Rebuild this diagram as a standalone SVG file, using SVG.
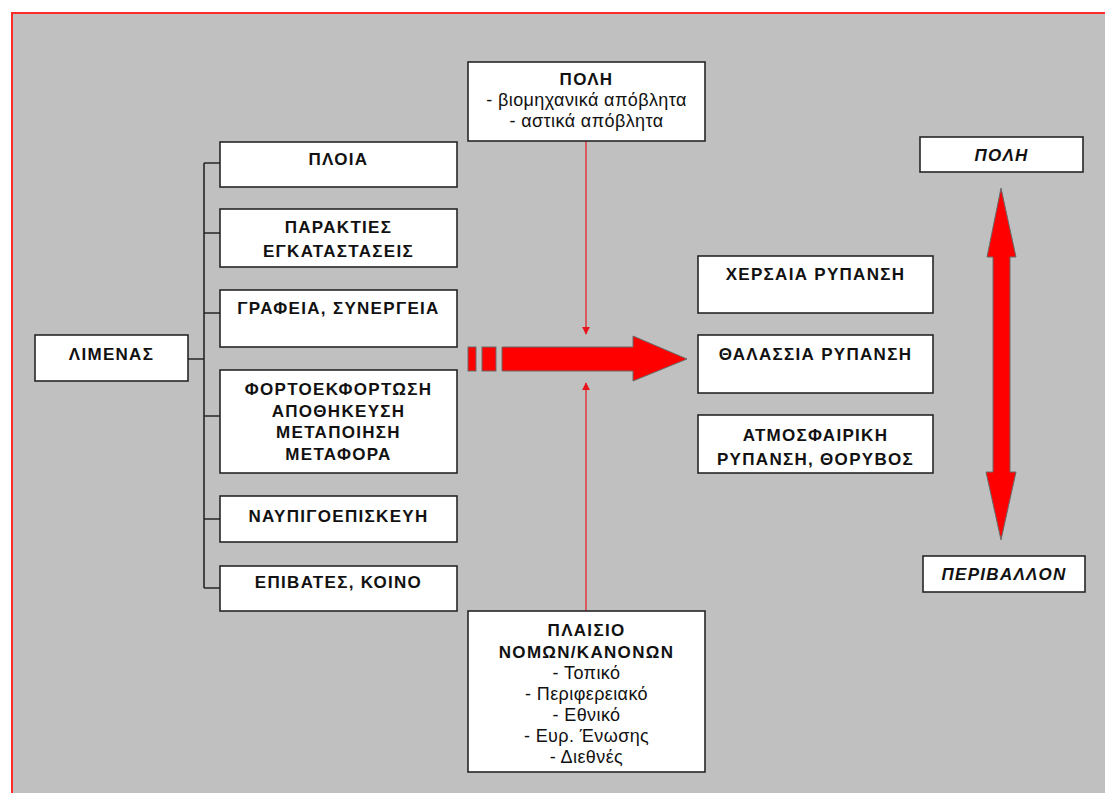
<svg xmlns="http://www.w3.org/2000/svg" width="1105" height="793" viewBox="0 0 1105 793">
  <style>
    .box { fill: #ffffff; stroke: #262626; stroke-width: 1.6; }
    .t { font-family: "Liberation Sans", Arial, sans-serif; font-size: 17px; fill: #111111; text-anchor: middle; }
    .b { font-weight: bold; letter-spacing: 1.3px; }
    .r { font-size: 18px; letter-spacing: 0.4px; }
    .i { font-weight: bold; font-style: italic; letter-spacing: 1.3px; }
    .tree { fill: none; stroke: #262626; stroke-width: 1.6; }
    .thin { stroke: #e8141c; stroke-width: 1.2; fill: none; }
    .big { fill: #ff0000; stroke: #6a6a6a; stroke-width: 1; }
  </style>
  <defs>
    <marker id="tip" viewBox="0 0 10 10" refX="9" refY="5" markerWidth="8" markerHeight="8" markerUnits="userSpaceOnUse" orient="auto">
      <path d="M0,0 L10,5 L0,10 z" fill="#e8141c"/>
    </marker>
  </defs>

  <!-- page background with red frame -->
  <rect x="0" y="0" width="1105" height="793" fill="#ffffff"/>
  <rect x="12" y="13" width="1093" height="780" fill="#c0c0c0"/>
  <path d="M12,793 L12,13 L1105,13" fill="none" stroke="#ff2b2b" stroke-width="2"/>

  <!-- connectors -->
  <g id="connectors">
    <path class="tree" d="M188,359 H204 M204,163 V588 M204,163 H220 M204,233 H220 M204,313 H220 M204,416 H220 M204,519 H220 M204,588 H220"/>
    <line class="thin" x1="586" y1="141" x2="586" y2="334" marker-end="url(#tip)"/>
    <line class="thin" x1="586" y1="611" x2="586" y2="383" marker-end="url(#tip)"/>
    <!-- main flow arrow -->
    <rect class="big" x="468" y="347" width="8" height="24"/>
    <rect class="big" x="482" y="347" width="14" height="24"/>
    <path class="big" d="M502,347 H633 V336 L687,359 L633,381 V371 H502 Z"/>
    <!-- city / environment double arrow -->
    <path class="big" d="M1001,188 L1016,257 H1010 V472 H1016 L1001,540 L986,472 H993 V257 H987 Z"/>
  </g>

  <!-- port -->
  <g id="limenas">
    <rect class="box" x="35" y="335" width="153" height="46"/>
    <text class="t b" x="111.5" y="360">ΛΙΜΕΝΑΣ</text>
  </g>

  <!-- port activities -->
  <g id="ploia">
    <rect class="box" x="220" y="142" width="237" height="45"/>
    <text class="t b" x="338.5" y="165">ΠΛΟΙΑ</text>
  </g>
  <g id="parakties">
    <rect class="box" x="220" y="209" width="237" height="58"/>
    <text class="t b" x="338.5" y="233">ΠΑΡΑΚΤΙΕΣ</text>
    <text class="t b" x="338.5" y="257">ΕΓΚΑΤΑΣΤΑΣΕΙΣ</text>
  </g>
  <g id="grafeia">
    <rect class="box" x="220" y="290" width="237" height="57"/>
    <text class="t b" x="338.5" y="314">ΓΡΑΦΕΙΑ, ΣΥΝΕΡΓΕΙΑ</text>
  </g>
  <g id="fortoekfortosi">
    <rect class="box" x="220" y="370" width="237" height="103"/>
    <text class="t b" x="338.5" y="395">ΦΟΡΤΟΕΚΦΟΡΤΩΣΗ</text>
    <text class="t b" x="338.5" y="416.5">ΑΠΟΘΗΚΕΥΣΗ</text>
    <text class="t b" x="338.5" y="438">ΜΕΤΑΠΟΙΗΣΗ</text>
    <text class="t b" x="338.5" y="459.5">ΜΕΤΑΦΟΡΑ</text>
  </g>
  <g id="naupigoepiskeui">
    <rect class="box" x="220" y="496" width="237" height="46"/>
    <text class="t b" x="338.5" y="522">ΝΑΥΠΙΓΟΕΠΙΣΚΕΥΗ</text>
  </g>
  <g id="epivates">
    <rect class="box" x="220" y="566" width="237" height="45"/>
    <text class="t b" x="338.5" y="588">ΕΠΙΒΑΤΕΣ, ΚΟΙΝΟ</text>
  </g>

  <!-- city sources -->
  <g id="poli-pigi">
    <rect class="box" x="468" y="62" width="237" height="79"/>
    <text class="t b" x="586.5" y="85">ΠΟΛΗ</text>
    <text class="t r" x="586.5" y="106">- βιομηχανικά απόβλητα</text>
    <text class="t r" x="586.5" y="127">- αστικά απόβλητα</text>
  </g>

  <!-- legal framework -->
  <g id="plaisio">
    <rect class="box" x="468" y="611" width="237" height="161"/>
    <text class="t b" x="586.5" y="636">ΠΛΑΙΣΙΟ</text>
    <text class="t b" x="586.5" y="658">ΝΟΜΩΝ/ΚΑΝΟΝΩΝ</text>
    <text class="t r" x="586.5" y="679">- Τοπικό</text>
    <text class="t r" x="586.5" y="700">- Περιφερειακό</text>
    <text class="t r" x="586.5" y="721">- Εθνικό</text>
    <text class="t r" x="586.5" y="742">- Ευρ. Ένωσης</text>
    <text class="t r" x="586.5" y="763">- Διεθνές</text>
  </g>

  <!-- pollution types -->
  <g id="xersaia">
    <rect class="box" x="698" y="256" width="235" height="57"/>
    <text class="t b" x="815.5" y="280">ΧΕΡΣΑΙΑ ΡΥΠΑΝΣΗ</text>
  </g>
  <g id="thalassia">
    <rect class="box" x="698" y="335" width="235" height="58"/>
    <text class="t b" x="815.5" y="360">ΘΑΛΑΣΣΙΑ ΡΥΠΑΝΣΗ</text>
  </g>
  <g id="atmosfairiki">
    <rect class="box" x="698" y="415" width="235" height="58"/>
    <text class="t b" x="815.5" y="441">ΑΤΜΟΣΦΑΙΡΙΚΗ</text>
    <text class="t b" x="815.5" y="465">ΡΥΠΑΝΣΗ, ΘΟΡΥΒΟΣ</text>
  </g>

  <!-- city / environment -->
  <g id="poli">
    <rect class="box" x="920" y="137" width="163" height="35"/>
    <text class="t i" x="1001.5" y="161">ΠΟΛΗ</text>
  </g>
  <g id="perivallon">
    <rect class="box" x="923" y="556" width="162" height="36"/>
    <text class="t i" x="1004" y="580">ΠΕΡΙΒΑΛΛΟΝ</text>
  </g>
</svg>
